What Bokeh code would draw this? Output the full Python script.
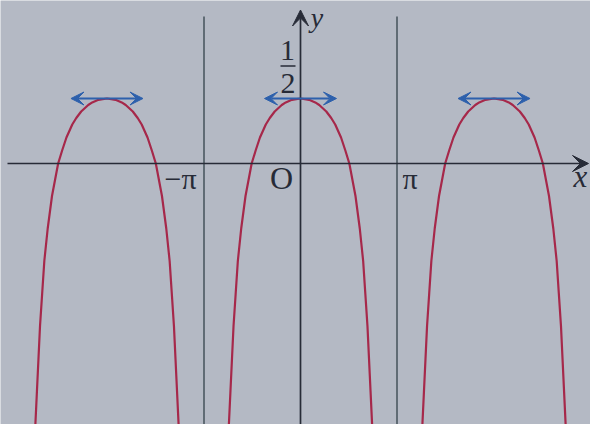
import math
from bokeh.plotting import figure
from bokeh.models import Arrow, VeeHead, ColumnDataSource
from bokeh.core.properties import value
from bokeh.embed import file_html
from bokeh.resources import INLINE

PI = math.pi

# ---- data ----
peak_centers = [-6.3, 0.0, 6.3]          # x of the three maxima (rad)
peak_value = 0.5                          # y of the maxima
asymptotes = [-PI, PI]                    # vertical lines
y_levels = [0.5, 0.49, 0.47, 0.45, 0.4, 0.35, 0.3, 0.2, 0.1, 0.0,
            -0.25, -0.5, -0.75, -1.0, -1.25, -1.5, -1.75, -2.05]
half_widths = [0.0, 0.28, 0.48, 0.61, 0.84, 1.0, 1.13, 1.32, 1.46, 1.59,
               1.79, 1.93, 2.04, 2.11, 2.18, 2.23, 2.28, 2.34]
x_tick_labels = ["−π", "π"]
origin_label = "O"
half_num, half_den = "1", "2"

# ---- styling ----
BG = "#b4b9c4"
AXIS = "#272b37"
VLINE = "#34424b"
CURVE = "#a6284a"
BLUE = "#2d60ac"
FONT = value("Liberation Serif")

PXR = 96.5 / PI      # px per rad in the reference
PXU = 130.0          # px per y-unit in the reference
X0, Y0 = 300.0, 163.0

def dx(px):
    return (px - X0) / PXR

def dy(py):
    return (Y0 - py) / PXU

p = figure(width=590, height=424, x_range=(dx(0), dx(590)), y_range=(dy(424), dy(0)),
           output_backend="svg", toolbar_location=None, min_border=0)
p.axis.visible = False
p.grid.visible = False
p.outline_line_color = None
p.background_fill_color = BG
p.border_fill_color = BG

# asymptotes
for a in asymptotes:
    p.line([a, a], [dy(16), dy(430)], line_color=VLINE, line_width=1.3)

# axes
p.add_layout(Arrow(x_start=dx(7), y_start=0, x_end=dx(588), y_end=0,
                   line_color=AXIS, line_width=1.7,
                   end=VeeHead(size=16, fill_color=AXIS, line_color=AXIS, line_width=1)))
p.add_layout(Arrow(x_start=0, y_start=dy(430), x_end=0, y_end=dy(9.5),
                   line_color=AXIS, line_width=1.7,
                   end=VeeHead(size=16, fill_color=AXIS, line_color=AXIS, line_width=1)))

# curves
for c in peak_centers:
    xs = [c - w for w in reversed(half_widths)] + [c + w for w in half_widths[1:]]
    ys = list(reversed(y_levels)) + y_levels[1:]
    p.line(xs, ys, line_color=CURVE, line_width=2.2)

# tangent arrows at maxima
half_len = dx(336) - dx(300)
src = ColumnDataSource(dict(xs=[c - half_len for c in peak_centers],
                            xe=[c + half_len for c in peak_centers],
                            y=[peak_value] * len(peak_centers)))
p.add_layout(Arrow(x_start="xs", y_start="y", x_end="xe", y_end="y", source=src,
                   line_color=BLUE, line_width=2,
                   start=VeeHead(size=13, fill_color=BLUE, line_color=BLUE, line_width=1),
                   end=VeeHead(size=13, fill_color=BLUE, line_color=BLUE, line_width=1)))

# labels
p.text(x=[dx(180), dx(409.5)], y=[dy(178)] * 2, text=x_tick_labels,
       text_font=FONT, text_font_size="30px", text_color=AXIS,
       text_align="center", text_baseline="alphabetic")
p.text(x=[dx(281)], y=[dy(177)], text=[origin_label],
       text_font=FONT, text_font_size="32px", text_color=AXIS,
       text_align="center", text_baseline="alphabetic")
p.text(x=[dx(287), dx(287.5)], y=[dy(50), dy(83)], text=[half_num, half_den],
       text_font=FONT, text_font_size="30px", text_color=AXIS,
       text_align="center", text_baseline="alphabetic")
p.line([dx(280), dx(295)], [dy(65.5), dy(65.5)], line_color=AXIS, line_width=1.4)
p.text(x=[dx(316.5)], y=[dy(17)], text=["y"],
       text_font=FONT, text_font_size="28px", text_font_style="italic", text_color=AXIS,
       text_align="center", text_baseline="alphabetic")
p.text(x=[dx(580)], y=[dy(176)], text=["x"],
       text_font=FONT, text_font_size="31px", text_font_style="italic", text_color=AXIS,
       text_align="center", text_baseline="alphabetic")

open("out.html", "w").write(file_html(p, INLINE))
